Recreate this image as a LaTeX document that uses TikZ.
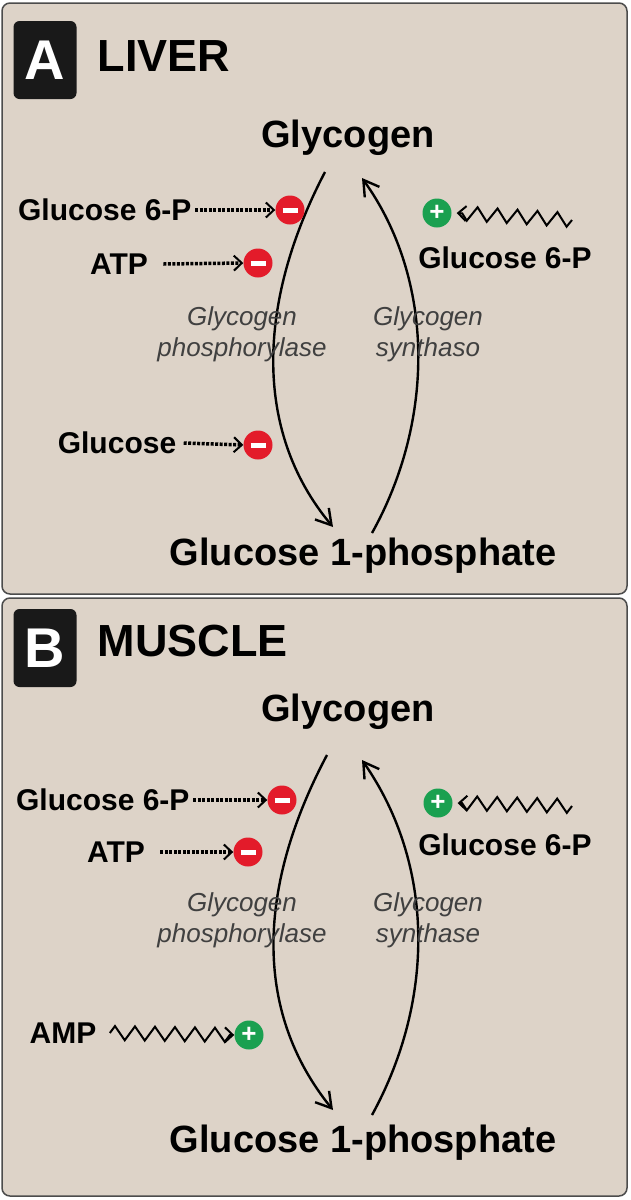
\documentclass[tikz,border=0pt]{standalone}
\usepackage{fontspec}
\setmainfont{Liberation Sans}
\usetikzlibrary{arrows.meta,decorations.pathmorphing}
\definecolor{bg}{HTML}{DDD3C8}
\definecolor{inh}{HTML}{E31B2A}
\definecolor{act}{HTML}{1AA050}
\begin{document}
\begin{tikzpicture}[x=1pt,y=-1pt,
 panel/.style={draw=black!70,line width=1.5pt,fill=bg,rounded corners=8pt},
 badge/.style={fill=black!90,rounded corners=6pt,text=white,font=\fontsize{56}{56}\bfseries\selectfont,minimum width=63pt,minimum height=78pt,inner sep=0},
 head/.style={font=\fontsize{45}{45}\bfseries\selectfont,anchor=west},
 big/.style={font=\fontsize{38}{38}\bfseries\selectfont},
 lab/.style={font=\fontsize{30}{30}\bfseries\selectfont},
 enz/.style={font=\fontsize{26}{31}\itshape\selectfont,text=black!75,align=center},
 minus/.style={circle,fill=inh,minimum size=29pt,inner sep=0},
 plus/.style={circle,fill=act,minimum size=29pt,inner sep=0,text=white,font=\fontsize{26}{26}\bfseries\selectfont},
 rxn/.style={line width=2.4pt,-{Straight Barb[length=15pt,width=18pt,line width=2.4pt]}},
 dsh/.style={line width=3.5pt,dash pattern=on 3pt off 1.5pt,-{Straight Barb[length=8pt,width=15pt,line width=2pt]}},
 wave/.style={line width=2pt,decorate,decoration={zigzag,amplitude=7pt,segment length=20pt,post length=4pt},-{Straight Barb[length=8pt,width=15pt,line width=2pt]}},
]
\useasboundingbox (0,0) rectangle (631,1200);
\newcommand{\mn}{\textcolor{white}{\rule[-2pt]{15pt}{5pt}}}
% Panel A
\path[panel] (2,3) rectangle (627,594);
\node[badge] (ba) at (45,60) {A};
\node[head] (ha) at (94,56) {LIVER};
\node[big] (gA) at (348,138) {Glycogen};
\node[big] (pA) at (363,556) {Glucose 1-phosphate};
\coordinate (a1) at (325,172); \coordinate (a2) at (333,527);
\coordinate (a3) at (372,533); \coordinate (a4) at (362,178);
\draw[rxn] (a1) .. controls (258,300) and (252,430) .. (a2);
\draw[rxn] (a3) .. controls (435,420) and (435,280) .. (a4);
\node[minus] (m1) at (290,210) {\mn};
\node[minus] (m2) at (258,263) {\mn};
\node[minus] (m3) at (258,445) {\mn};
\node[plus] (p1) at (437,213) {+};
\node[lab,anchor=east] (t1) at (195,210) {Glucose 6-P};
\node[lab] (t2) at (119,264) {ATP};
\node[lab] (t3) at (117,443) {Glucose};
\node[lab] (t4) at (505,258) {Glucose 6-P};
\coordinate (w1) at (572,220);
\draw[dsh] (t1.east) -- (m1.west);
\draw[dsh] ([xshift=12pt]t2.east) -- (m2.west);
\draw[dsh] ([xshift=4pt]t3.east) -- (m3.west);
\draw[wave] (w1) -- ([xshift=5pt]p1.east);
\node[enz] (e1) at (242,334) {Glycogen\\phosphorylase};
\node[enz] (e2) at (428,334) {Glycogen\\synthaso};
% Panel B
\path[panel] (2,598) rectangle (627,1196);
\node[badge] (bb) at (45,648) {B};
\node[head] (hb) at (94,641) {MUSCLE};
\node[big] (gB) at (348,712) {Glycogen};
\node[big] (pB) at (363,1143) {Glucose 1-phosphate};
\coordinate (b1) at (327,755); \coordinate (b2) at (333,1110);
\coordinate (b3) at (372,1115); \coordinate (b4) at (362,760);
\draw[rxn] (b1) .. controls (258,885) and (252,1010) .. (b2);
\draw[rxn] (b3) .. controls (435,1000) and (435,865) .. (b4);
\node[minus] (n1) at (282,800) {\mn};
\node[minus] (n2) at (248,852) {\mn};
\node[plus] (q2) at (249,1035) {+};
\node[plus] (q1) at (438,803) {+};
\node[lab,anchor=east] (s1) at (193,800) {Glucose 6-P};
\node[lab] (s2) at (116,852) {ATP};
\node[lab] (s3) at (63,1033) {AMP};
\node[lab] (s4) at (505,845) {Glucose 6-P};
\coordinate (v1) at (572,806);
\draw[dsh] (s1.east) -- (n1.west);
\draw[dsh] ([xshift=12pt]s2.east) -- (n2.west);
\draw[wave] ([xshift=10pt]s3.east) -- (q2.west);
\draw[wave] (v1) -- ([xshift=5pt]q1.east);
\node[enz] (f1) at (242,920) {Glycogen\\phosphorylase};
\node[enz] (f2) at (428,920) {Glycogen\\synthase};
\end{tikzpicture}
\end{document}
